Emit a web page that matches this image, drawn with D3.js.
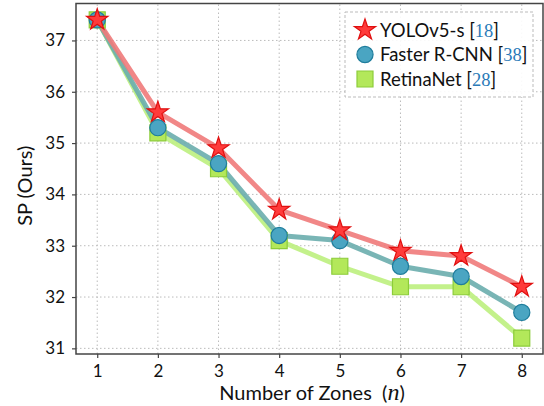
<!DOCTYPE html>
<html><head><meta charset="utf-8">
<script src="https://cdn.jsdelivr.net/npm/d3@7"></script>
<style>body{margin:0;background:#fff}svg{display:block}</style>
</head><body>
<script>
const zones = [1,2,3,4,5,6,7,8];
const yolo = [37.4,35.6,34.9,33.7,33.3,32.9,32.8,32.2];
const faster = [37.4,35.3,34.6,33.2,33.1,32.6,32.4,31.7];
const retina = [37.4,35.2,34.5,33.1,32.6,32.2,32.2,31.2];
const yTicks = [31,32,33,34,35,36,37];
const seriesNames = ["YOLOv5-s","Faster R-CNN","RetinaNet"];
const seriesRefs = ["18","38","28"];

const W=544,H=406;
const m={l:76,r:1,t:3.5,b:52};
const font="Lato, 'Open Sans', sans-serif";
const svg=d3.select("body").append("svg").attr("width",W).attr("height",H);
const x=d3.scaleLinear().domain([0.65,8.35]).range([m.l,W-m.r]);
const y=d3.scaleLinear().domain([30.89,37.72]).range([H-m.b,m.t]);

// grid
svg.append("g").selectAll("line").data(zones).join("line")
 .attr("x1",d=>x(d)).attr("x2",d=>x(d)).attr("y1",y.range()[0]).attr("y2",y.range()[1])
 .attr("stroke","#bbb").attr("stroke-width",1).attr("stroke-dasharray","1.5,2.5");
svg.append("g").selectAll("line").data(yTicks).join("line")
 .attr("y1",d=>y(d)).attr("y2",d=>y(d)).attr("x1",x.range()[0]).attr("x2",x.range()[1])
 .attr("stroke","#bbb").attr("stroke-width",1).attr("stroke-dasharray","1.5,2.5");

// axes
const ax=svg.append("g").attr("transform",`translate(0,${H-m.b})`)
 .call(d3.axisBottom(x).tickValues(zones).tickFormat(d3.format("d")).tickSize(4).tickPadding(7));
const ay=svg.append("g").attr("transform",`translate(${m.l},0)`)
 .call(d3.axisLeft(y).tickValues(yTicks).tickFormat(d3.format("d")).tickSize(4).tickPadding(7));
[ax,ay].forEach(a=>{a.select(".domain").remove();a.selectAll("line").attr("stroke","#444").attr("stroke-width",1.2);
 a.selectAll("text").attr("font-family",font).attr("font-size",17).attr("fill","#111");});

// frame
svg.append("rect").attr("x",m.l).attr("y",m.t).attr("width",W-m.r-m.l).attr("height",H-m.b-m.t)
 .attr("fill","none").attr("stroke","#444").attr("stroke-width",1.5);

const series=[
 {name:seriesNames[0],ref:seriesRefs[0],vals:yolo,line:"#f07a7a",fill:"#ff3b3b",edge:"#e01010",shape:"star"},
 {name:seriesNames[1],ref:seriesRefs[1],vals:faster,line:"#6aadad",fill:"#4aa5c2",edge:"#1f7d9c",shape:"circle"},
 {name:seriesNames[2],ref:seriesRefs[2],vals:retina,line:"#bdf07e",fill:"#b3e85a",edge:"#8ccc3a",shape:"square"}
];
const sym={star:d3.symbol(d3.symbolStar,140),circle:d3.symbol(d3.symbolCircle,205),square:d3.symbol(d3.symbolSquare,256)};
const line=d3.line().x((d,i)=>x(zones[i])).y(d=>y(d));

const order=[2,1,0];
order.forEach(k=>{const s=series[k];
 svg.append("path").attr("d",line(s.vals)).attr("fill","none").attr("stroke",s.line)
  .attr("stroke-width",5).attr("stroke-opacity",0.9).attr("stroke-linejoin","round");});
order.forEach(k=>{const s=series[k];
 svg.append("g").selectAll("path").data(s.vals).join("path")
  .attr("transform",(d,i)=>`translate(${x(zones[i])},${y(d)})`)
  .attr("d",sym[s.shape]()).attr("fill",s.fill).attr("stroke",s.edge).attr("stroke-width",1.2);});

// legend
const lg=svg.append("g");
lg.append("rect").attr("x",345).attr("y",12).attr("width",188).attr("height",85)
 .attr("fill","#fff").attr("fill-opacity",0.9).attr("stroke","#bbb").attr("stroke-dasharray","3,2").attr("stroke-width",1);
series.forEach((s,i)=>{const cy=30+i*24.5;
 lg.append("path").attr("transform",`translate(365,${cy})`).attr("d",sym[s.shape]())
  .attr("fill",s.fill).attr("stroke",s.edge).attr("stroke-width",1.2);
 const t=lg.append("text").attr("x",380).attr("y",cy+6.5).attr("font-family",font).attr("font-size",18.5).attr("fill","#111");
 t.append("tspan").text(s.name+" [");
 t.append("tspan").attr("font-family","'Liberation Serif','DejaVu Serif',serif").attr("fill","#2a7ab8").text(s.ref);
 t.append("tspan").text("]");
});

// axis labels
const xl=svg.append("text").attr("x",312).attr("y",400).attr("text-anchor","middle")
 .attr("font-family",font).attr("font-size",20).attr("fill","#111").attr("xml:space","preserve");
xl.append("tspan").text("Number of Zones  (");
xl.append("tspan").attr("font-family","'Liberation Serif','DejaVu Serif',serif").attr("font-style","italic").attr("font-size",24).text("n");
xl.append("tspan").text(")");
svg.append("text").attr("transform",`translate(32,${(m.t+H-m.b)/2+7}) rotate(-90)`).attr("text-anchor","middle")
 .attr("font-family",font).attr("font-size",20).attr("fill","#111").text("SP (Ours)");
</script>
</body></html>
